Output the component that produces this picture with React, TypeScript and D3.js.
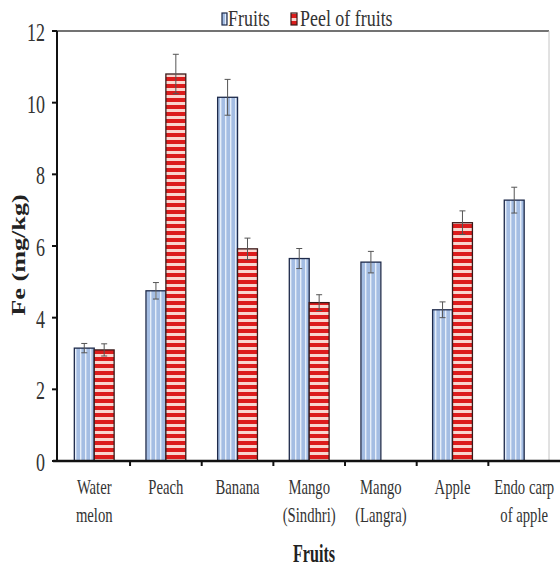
import React from "react";
import * as d3 from "d3";

const categories = [
  ["Water", "melon"],
  ["Peach"],
  ["Banana"],
  ["Mango", "(Sindhri)"],
  ["Mango", "(Langra)"],
  ["Apple"],
  ["Endo carp", "of apple"],
];
const seriesNames = ["Fruits", "Peel of fruits"];
const fruitsValues = [3.15, 4.75, 10.15, 5.65, 5.55, 4.22, 7.28];
const fruitsErrors = [0.13, 0.23, 0.5, 0.28, 0.3, 0.22, 0.36];
const peelValues: (number | null)[] = [3.1, 10.8, 5.92, 4.42, null, 6.65, null];
const peelErrors: (number | null)[] = [0.17, 0.55, 0.3, 0.22, null, 0.33, null];
const yTicks = [0, 2, 4, 6, 8, 10, 12];
const xTitle = "Fruits";
const yTitle = "Fe (mg/kg)";

const serif = "'Liberation Serif', 'Times New Roman', 'DejaVu Serif', serif";

function CText(props: { x: number; y: number; sx: number; size: number; anchor?: string; bold?: boolean; fill?: string; children: any }) {
  const { x, y, sx, size, anchor = "start", bold = false, fill = "#333", children } = props;
  return (
    <text transform={`translate(${x},${y}) scale(${sx},1)`} textAnchor={anchor}
      style={{ fontFamily: serif, fontSize: size, fontWeight: bold ? "bold" : "normal" }} fill={fill}>
      {children}
    </text>
  );
}

export default function App() {
  const W = 560, H = 567;
  const left = 57, right = 549, top = 31, bottom = 461;
  const x0 = d3.scaleBand<number>().domain(d3.range(categories.length)).range([58.4, 560]).padding(0);
  const x1 = d3.scaleBand<string>().domain(seriesNames).range([0, x0.bandwidth()]).paddingInner(0).paddingOuter(0.8);
  const y = d3.scaleLinear().domain([0, 12]).range([bottom, top]);

  const bars: any[] = [];
  categories.forEach((_, i) => {
    [
      { s: seriesNames[0], v: fruitsValues[i], e: fruitsErrors[i] },
      { s: seriesNames[1], v: peelValues[i], e: peelErrors[i] },
    ].forEach((d) => {
      if (d.v == null) return;
      bars.push({ i, ...d });
    });
  });

  return (
    <svg width={W} height={H} style={{ position: "absolute", left: 0, top: 0, background: "#fff" }}>
      <defs>
        <pattern id="pFruit" patternUnits="userSpaceOnUse" width={5} height={10}>
          <rect width={5} height={10} fill="#a4bde3" />
          <rect x={0} width={1.4} height={10} fill="#e6eef9" />
        </pattern>
        <pattern id="pPeel" patternUnits="userSpaceOnUse" width={10} height={7}>
          <rect width={10} height={7} fill="#dc1c1c" />
          <rect y={4} width={10} height={3} fill="#f9d6cf" />
        </pattern>
      </defs>
      {/* plot area border */}
      <line x1={left} x2={right} y1={top} y2={top} stroke="#444" strokeWidth={1.3} />
      <line x1={right} x2={right} y1={top} y2={bottom} stroke="#c4c4c4" strokeWidth={1} />
      {/* bars */}
      {bars.map((b, k) => {
        const bx = (x0(b.i) as number) + (x1(b.s) as number);
        const bw = x1.bandwidth();
        const yt = y(b.v);
        const cx = bx + bw / 2;
        const isF = b.s === seriesNames[0];
        return (
          <g key={k}>
            <rect x={bx} y={yt} width={bw} height={bottom - yt} fill={isF ? "url(#pFruit)" : "url(#pPeel)"}
              stroke={isF ? "#1e2a4a" : "#3a1a1a"} strokeWidth={1.3} />
            <line x1={cx} x2={cx} y1={y(b.v + b.e)} y2={y(b.v - b.e)} stroke="#555" strokeWidth={1} />
            <line x1={cx - 3} x2={cx + 3} y1={y(b.v + b.e)} y2={y(b.v + b.e)} stroke="#555" strokeWidth={1} />
            <line x1={cx - 3} x2={cx + 3} y1={y(b.v - b.e)} y2={y(b.v - b.e)} stroke="#555" strokeWidth={1} />
          </g>
        );
      })}
      {/* y axis */}
      <line x1={left} x2={left} y1={top} y2={bottom + 1} stroke="#111" strokeWidth={2} />
      {yTicks.map((t) => (
        <g key={t}>
          <line x1={left - 5} x2={left} y1={y(t)} y2={y(t)} stroke="#111" strokeWidth={2} />
          <CText x={45} y={y(t) + 10} sx={0.72} size={25} anchor="end">{t}</CText>
        </g>
      ))}
      <text transform={`translate(25,255) rotate(-90) scale(1.38,1)`} textAnchor="middle"
        style={{ fontFamily: serif, fontWeight: "bold", fontSize: 19 }} fill="#222">{yTitle}</text>
      {/* x axis */}
      <line x1={left - 4} x2={560} y1={bottom} y2={bottom} stroke="#111" strokeWidth={2.5} />
      {categories.map((_, i) => i > 0 ? (
        <line key={i} x1={x0(i) as number} x2={x0(i) as number} y1={bottom} y2={bottom + 5} stroke="#111" strokeWidth={2} />
      ) : null)}
      {categories.map((c, i) => {
        const cx = (x0(i) as number) + x0.bandwidth() / 2;
        return (
          <g key={i}>
            {c.map((l, j) => (
              <CText key={j} x={cx} y={494 + j * 28} sx={0.7} size={21} anchor="middle">{l}</CText>
            ))}
          </g>
        );
      })}
      <CText x={314} y={562} sx={0.62} size={26} anchor="middle" bold fill="#222">{xTitle}</CText>
      {/* legend */}
      <rect x={222} y={13} width={5} height={12} fill="url(#pFruit)" stroke="#1e2a4a" strokeWidth={1.2} />
      <CText x={228} y={26} sx={0.78} size={23}>{seriesNames[0]}</CText>
      <rect x={291} y={13} width={6} height={12} fill="url(#pPeel)" stroke="#3a1a1a" strokeWidth={1.2} />
      <CText x={300} y={26} sx={0.78} size={23}>{seriesNames[1]}</CText>
    </svg>
  );
}
